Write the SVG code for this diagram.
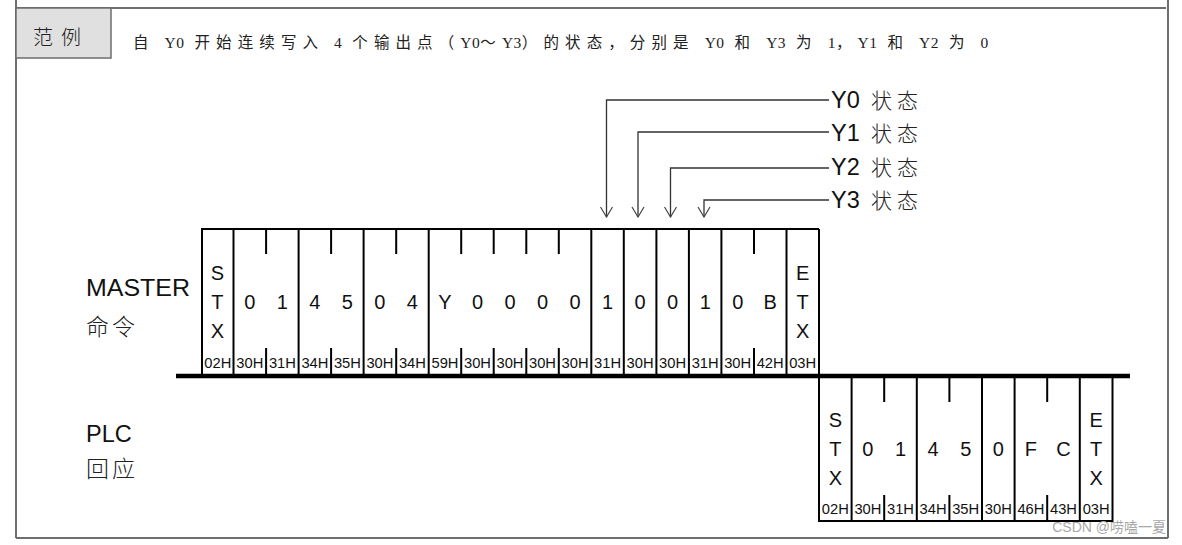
<svg xmlns="http://www.w3.org/2000/svg" width="1182" height="545" viewBox="0 0 1182 545">
<style>
.frame{stroke:#6e6e6e;stroke-width:2;fill:none}
.b{stroke:#000;stroke-width:2;fill:none}
.thick{stroke:#000;stroke-width:4.5;fill:none}
.ch{font-family:"Liberation Sans",Arial,sans-serif;font-size:20px;text-anchor:middle;fill:#111}
.hx{font-family:"Liberation Sans",Arial,sans-serif;font-size:14.5px;text-anchor:middle;fill:#111}
.lbl{font-family:"Liberation Sans",Arial,sans-serif;font-size:23.5px;fill:#111}
.cjk{font-family:"Noto Sans CJK SC","Noto Sans CJK JP",sans-serif;font-weight:300;fill:#222}
.conn{stroke:#333;stroke-width:1.3;fill:none}
.lt{letter-spacing:0.5px}
</style>
<defs>
<marker id="arr" viewBox="-1 -7 12 14" refX="10" refY="0" markerWidth="12" markerHeight="14" markerUnits="userSpaceOnUse" orient="auto">
<path d="M0,-6 L10,0 L0,6" fill="none" stroke="#444" stroke-width="1.2"/>
</marker>
</defs>
<rect width="1182" height="545" fill="#fff"/>

<g id="page-frame">
<line class="frame" x1="16" y1="0" x2="16" y2="538"/>
<line class="frame" x1="1168" y1="0" x2="1168" y2="538"/>
<line class="frame" x1="16" y1="8" x2="1166" y2="8"/>
<line class="frame" x1="16" y1="538" x2="1168" y2="538"/>
</g>

<g id="header">
<rect x="16" y="8" width="95" height="50" fill="#e0e0e0" stroke="#6e6e6e" stroke-width="1.5"/>
<text class="cjk" x="33" y="45" font-size="20" letter-spacing="8">范例</text>
<text x="133" y="48" font-family="'Liberation Serif','Noto Sans CJK SC',serif" font-size="15.5" fill="#222" letter-spacing="6.1">自 <tspan class="lt">Y0</tspan> 开始连续写入 <tspan class="lt">4</tspan> 个输出点（<tspan class="lt">Y0</tspan>～<tspan class="lt">Y3</tspan>）的状态，分别是 <tspan class="lt">Y0</tspan> 和 <tspan class="lt">Y3</tspan> 为 <tspan class="lt">1</tspan>，<tspan class="lt">Y1</tspan> 和 <tspan class="lt">Y2</tspan> 为 <tspan class="lt">0</tspan></text>
</g>

<g id="row-labels">
<text class="lbl" x="86" y="296" textLength="104" lengthAdjust="spacingAndGlyphs">MASTER</text>
<text class="cjk" x="86" y="335" font-size="23" letter-spacing="3">命令</text>
<text class="lbl" x="86" y="442">PLC</text>
<text class="cjk" x="86" y="477" font-size="23" letter-spacing="3">回应</text>
</g>

<g id="master-frame">
<line class="b" x1="201" y1="229" x2="819" y2="229"/>
<g class="b">
<line x1="202" y1="229" x2="202" y2="376"/>
<line x1="233.5" y1="229" x2="233.5" y2="376"/>
<line x1="298.6" y1="229" x2="298.6" y2="376"/>
<line x1="363.6" y1="229" x2="363.6" y2="376"/>
<line x1="428.7" y1="229" x2="428.7" y2="376"/>
<line x1="591.3" y1="229" x2="591.3" y2="376"/>
<line x1="623.8" y1="229" x2="623.8" y2="376"/>
<line x1="656.4" y1="229" x2="656.4" y2="376"/>
<line x1="688.9" y1="229" x2="688.9" y2="376"/>
<line x1="721.4" y1="229" x2="721.4" y2="376"/>
<line x1="786.5" y1="229" x2="786.5" y2="376"/>
<line x1="819" y1="229" x2="819" y2="376"/>
<path d="M266.1,229V254M266.1,348V376M331.1,229V254M331.1,348V376M396.2,229V254M396.2,348V376M461.2,229V254M461.2,348V376M493.7,229V254M493.7,348V376M526.3,229V254M526.3,348V376M558.8,229V254M558.8,348V376M754,229V254M754,348V376"/>
</g>
<text class="ch" x="217.3" y="280">S</text>
<text class="ch" x="217.3" y="309">T</text>
<text class="ch" x="217.3" y="338">X</text>
<text class="ch" x="802.7" y="280">E</text>
<text class="ch" x="802.7" y="309">T</text>
<text class="ch" x="802.7" y="338">X</text>
<g class="ch">
<text x="249.8" y="309">0</text>
<text x="282.4" y="309">1</text>
<text x="314.9" y="309">4</text>
<text x="347.4" y="309">5</text>
<text x="379.9" y="309">0</text>
<text x="412.4" y="309">4</text>
<text x="445" y="309">Y</text>
<text x="477.5" y="309">0</text>
<text x="510" y="309">0</text>
<text x="542.5" y="309">0</text>
<text x="575.1" y="309">0</text>
<text x="607.6" y="309">1</text>
<text x="640.1" y="309">0</text>
<text x="672.6" y="309">0</text>
<text x="705.2" y="309">1</text>
<text x="737.7" y="309">0</text>
<text x="770.2" y="309">B</text>
</g>
<g class="hx">
<text x="217.8" y="368" textLength="27" lengthAdjust="spacingAndGlyphs">02H</text>
<text x="249.8" y="368" textLength="27" lengthAdjust="spacingAndGlyphs">30H</text>
<text x="282.4" y="368" textLength="27" lengthAdjust="spacingAndGlyphs">31H</text>
<text x="314.9" y="368" textLength="27" lengthAdjust="spacingAndGlyphs">34H</text>
<text x="347.4" y="368" textLength="27" lengthAdjust="spacingAndGlyphs">35H</text>
<text x="379.9" y="368" textLength="27" lengthAdjust="spacingAndGlyphs">30H</text>
<text x="412.4" y="368" textLength="27" lengthAdjust="spacingAndGlyphs">34H</text>
<text x="445" y="368" textLength="27" lengthAdjust="spacingAndGlyphs">59H</text>
<text x="477.5" y="368" textLength="27" lengthAdjust="spacingAndGlyphs">30H</text>
<text x="510" y="368" textLength="27" lengthAdjust="spacingAndGlyphs">30H</text>
<text x="542.5" y="368" textLength="27" lengthAdjust="spacingAndGlyphs">30H</text>
<text x="575.1" y="368" textLength="27" lengthAdjust="spacingAndGlyphs">30H</text>
<text x="607.6" y="368" textLength="27" lengthAdjust="spacingAndGlyphs">31H</text>
<text x="640.1" y="368" textLength="27" lengthAdjust="spacingAndGlyphs">30H</text>
<text x="672.6" y="368" textLength="27" lengthAdjust="spacingAndGlyphs">30H</text>
<text x="705.2" y="368" textLength="27" lengthAdjust="spacingAndGlyphs">31H</text>
<text x="737.7" y="368" textLength="27" lengthAdjust="spacingAndGlyphs">30H</text>
<text x="770.2" y="368" textLength="27" lengthAdjust="spacingAndGlyphs">42H</text>
<text x="802.7" y="368" textLength="27" lengthAdjust="spacingAndGlyphs">03H</text>
</g>
</g>

<g id="timeline">
<line class="thick" x1="176" y1="376" x2="1130" y2="376"/>
</g>

<g id="plc-frame">
<line class="b" x1="819" y1="521" x2="1113" y2="521"/>
<g class="b">
<line x1="819" y1="376" x2="819" y2="522"/>
<line x1="851.6" y1="376" x2="851.6" y2="522"/>
<line x1="916.8" y1="376" x2="916.8" y2="522"/>
<line x1="982" y1="376" x2="982" y2="522"/>
<line x1="1014.6" y1="376" x2="1014.6" y2="522"/>
<line x1="1079.8" y1="376" x2="1079.8" y2="522"/>
<line x1="1112.5" y1="376" x2="1112.5" y2="522"/>
<path d="M884.2,376V402M884.2,495V521M949.4,376V402M949.4,495V521M1047.2,376V402M1047.2,495V521"/>
</g>
<text class="ch" x="835.3" y="427">S</text>
<text class="ch" x="835.3" y="456">T</text>
<text class="ch" x="835.3" y="485">X</text>
<text class="ch" x="1096.2" y="427">E</text>
<text class="ch" x="1096.2" y="456">T</text>
<text class="ch" x="1096.2" y="485">X</text>
<g class="ch">
<text x="867.9" y="456">0</text>
<text x="900.5" y="456">1</text>
<text x="933.1" y="456">4</text>
<text x="965.7" y="456">5</text>
<text x="998.3" y="456">0</text>
<text x="1030.9" y="456">F</text>
<text x="1063.5" y="456">C</text>
</g>
<g class="hx">
<text x="835.3" y="514" textLength="27" lengthAdjust="spacingAndGlyphs">02H</text>
<text x="867.9" y="514" textLength="27" lengthAdjust="spacingAndGlyphs">30H</text>
<text x="900.5" y="514" textLength="27" lengthAdjust="spacingAndGlyphs">31H</text>
<text x="933.1" y="514" textLength="27" lengthAdjust="spacingAndGlyphs">34H</text>
<text x="965.7" y="514" textLength="27" lengthAdjust="spacingAndGlyphs">35H</text>
<text x="998.3" y="514" textLength="27" lengthAdjust="spacingAndGlyphs">30H</text>
<text x="1030.9" y="514" textLength="27" lengthAdjust="spacingAndGlyphs">46H</text>
<text x="1063.5" y="514" textLength="27" lengthAdjust="spacingAndGlyphs">43H</text>
<text x="1096.2" y="514" textLength="27" lengthAdjust="spacingAndGlyphs">03H</text>
</g>
</g>

<g id="connectors">
<path class="conn" d="M829,100 H606.5 V217" marker-end="url(#arr)"/>
<path class="conn" d="M829,132 H638 V217" marker-end="url(#arr)"/>
<path class="conn" d="M829,168 H670.5 V217" marker-end="url(#arr)"/>
<path class="conn" d="M829,200 H704 V217" marker-end="url(#arr)"/>
</g>

<g id="status-labels">
<g id="y0-label"><text class="lbl" x="831" y="108" font-size="22">Y0</text><text class="cjk" x="871" y="108" font-size="21" letter-spacing="5">状态</text></g>
<g id="y1-label"><text class="lbl" x="831" y="141" font-size="22">Y1</text><text class="cjk" x="871" y="141" font-size="21" letter-spacing="5">状态</text></g>
<g id="y2-label"><text class="lbl" x="831" y="175" font-size="22">Y2</text><text class="cjk" x="871" y="175" font-size="21" letter-spacing="5">状态</text></g>
<g id="y3-label"><text class="lbl" x="831" y="208" font-size="22">Y3</text><text class="cjk" x="871" y="208" font-size="21" letter-spacing="5">状态</text></g>
</g>

<text x="1166" y="532" text-anchor="end" font-family="'Liberation Sans','Noto Sans CJK SC',sans-serif" font-size="14" fill="#a8a8a8">CSDN @唠嗑一夏</text>
</svg>
